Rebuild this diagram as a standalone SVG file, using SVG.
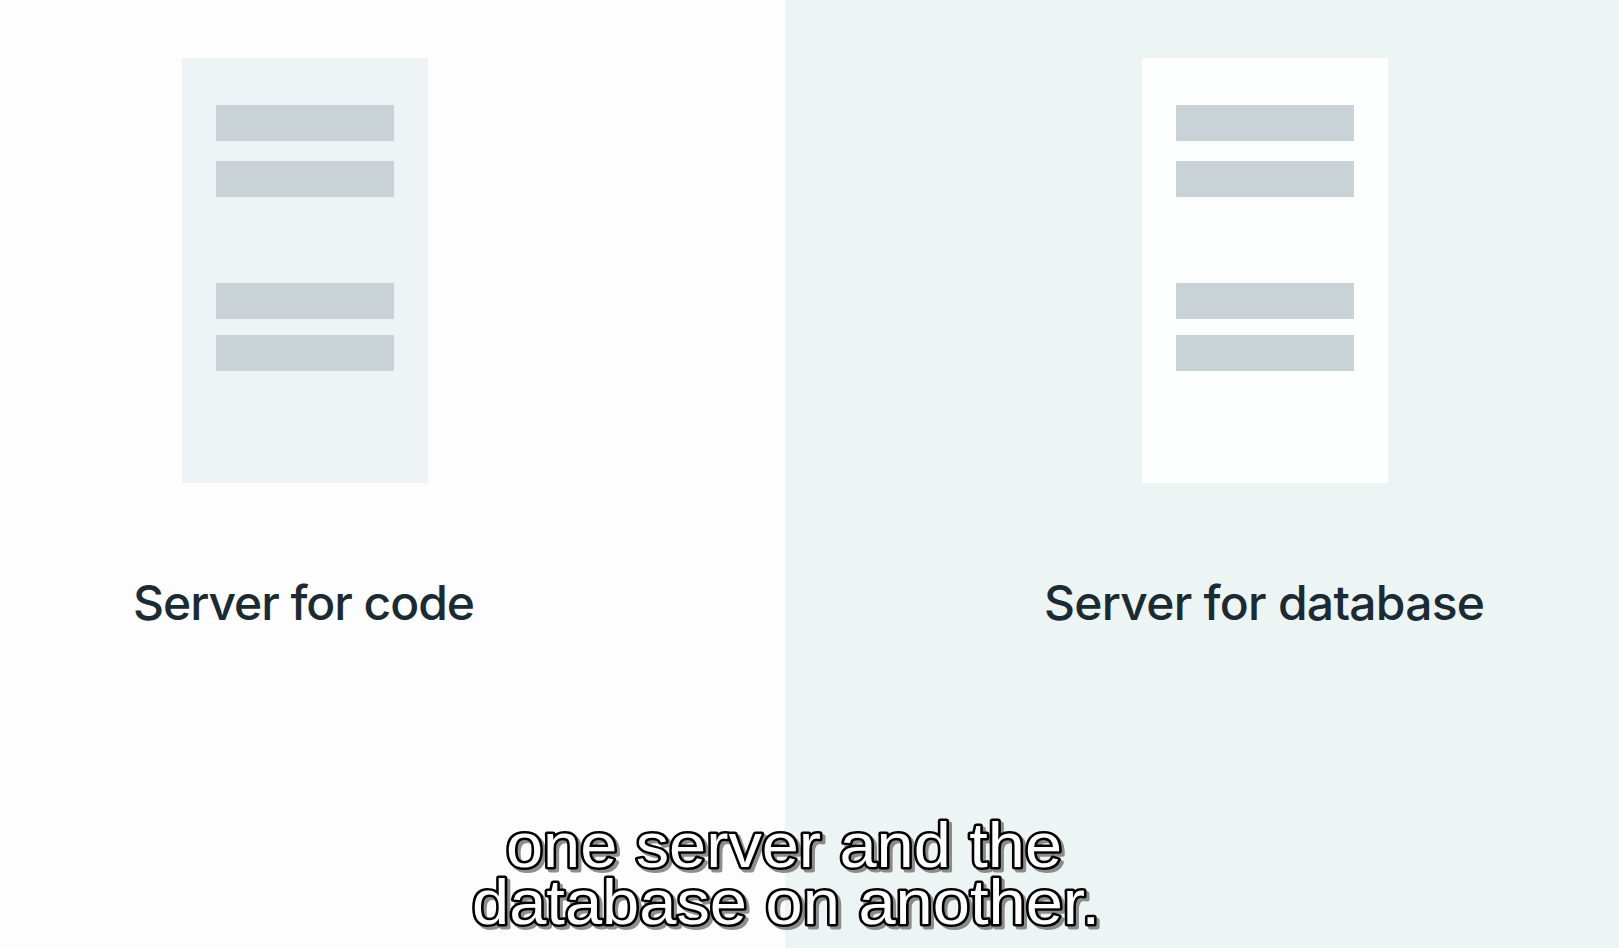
<svg xmlns="http://www.w3.org/2000/svg" width="1619" height="948" viewBox="0 0 1619 948">
<style>
.bar{fill:#c9d2d6}
.label{font-family:Inter,"Noto Sans",sans-serif;font-size:48px;font-weight:500;fill:#1c2b33;text-anchor:middle}
.sub{font-family:"Liberation Sans",Arial,sans-serif;font-size:63px;text-anchor:middle}
.subshadow{fill:#6a6a6a;stroke:#6a6a6a;stroke-width:5px;stroke-linejoin:round;opacity:0.75}
.subtext{fill:#ffffff;stroke:#000000;stroke-width:5px;stroke-linejoin:round;paint-order:stroke}
</style>
<g id="background">
<rect x="0" y="0" width="785" height="948" fill="#fdfdfd"/>
<rect x="785" y="0" width="834" height="948" fill="#edf4f4"/>
</g>
<g id="server-code">
<rect x="182" y="58" width="246" height="425" fill="#eef4f5"/>
<rect class="bar" x="216" y="105" width="178" height="36"/>
<rect class="bar" x="216" y="161" width="178" height="36"/>
<rect class="bar" x="216" y="283" width="178" height="36"/>
<rect class="bar" x="216" y="335" width="178" height="36"/>
<text class="label" x="304" y="620" textLength="342" lengthAdjust="spacing">Server for code</text>
</g>
<g id="server-database">
<rect x="1142" y="58" width="246" height="425" fill="#fdfefe"/>
<rect class="bar" x="1176" y="105" width="178" height="36"/>
<rect class="bar" x="1176" y="161" width="178" height="36"/>
<rect class="bar" x="1176" y="283" width="178" height="36"/>
<rect class="bar" x="1176" y="335" width="178" height="36"/>
<text class="label" x="1264.5" y="620" textLength="441" lengthAdjust="spacing">Server for database</text>
</g>
<g id="connectors"></g>
<g id="subtitle">
<text class="sub subshadow" x="789" y="927" textLength="628" lengthAdjust="spacingAndGlyphs">database on another.</text>
<text class="sub subtext" x="786" y="924" textLength="628" lengthAdjust="spacingAndGlyphs">database on another.</text>
<text class="sub subshadow" x="787" y="870" textLength="556" lengthAdjust="spacingAndGlyphs">one server and the</text>
<text class="sub subtext" x="784" y="867" textLength="556" lengthAdjust="spacingAndGlyphs">one server and the</text>
</g>
</svg>
